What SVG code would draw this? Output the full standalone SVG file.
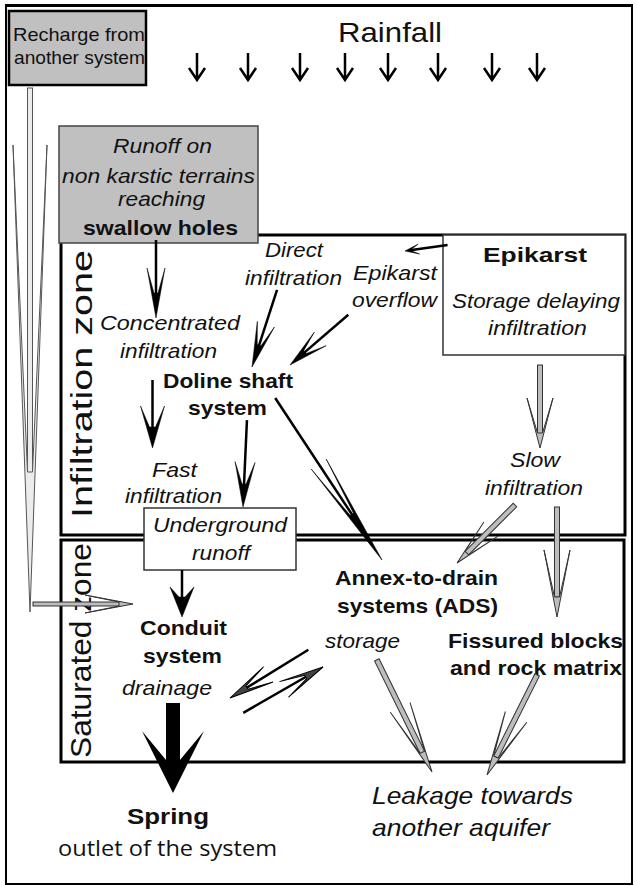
<svg xmlns="http://www.w3.org/2000/svg" width="637" height="886" viewBox="0 0 637 886">
<style>
text{font-family:"Liberation Sans",Arimo,Arial,sans-serif;fill:#111}
.it{font-style:italic;font-size:21px}
.b{font-weight:bold;font-size:21px}
.zone{font-size:29px}
.sh{stroke:#000;fill:none;stroke-width:2.5}
.hd{fill:#000;stroke:#000;stroke-width:0.5}
.g{fill:#bdbdbd;stroke:#333;stroke-width:1}
.dg{fill:#444;stroke:#000;stroke-width:1}
.lg{fill:#ececec;stroke:#555;stroke-width:1}
.box{fill:#fff;stroke:#333;stroke-width:1.5}
.gbox{fill:#c0c0c0}
.zn{fill:none;stroke:#000;stroke-width:3}
</style>
<rect x="6" y="5" width="626" height="879" fill="#fff" stroke="#000" stroke-width="2"/>
<line x1="5" y1="5.5" x2="632" y2="5.5" stroke="#000" stroke-width="3"/>

<g id="infiltration-zone">
<rect class="zn" x="61" y="235" width="564" height="300"/>
<text class="zone" transform="translate(92,518) rotate(-90)" textLength="268" lengthAdjust="spacingAndGlyphs">Infiltration zone</text>
</g>
<g id="saturated-zone">
<rect class="zn" x="61" y="540" width="563" height="222"/>
<text class="zone" transform="translate(91,758) rotate(-90)" textLength="215" lengthAdjust="spacingAndGlyphs">Saturated zone</text>
</g>

<g id="recharge">
<rect class="gbox" x="9" y="11" width="137" height="74" stroke="#000" stroke-width="2.5"/>
<text x="13" y="41" font-size="19" textLength="132" lengthAdjust="spacingAndGlyphs">Recharge from</text>
<text x="14" y="64" font-size="19" textLength="131" lengthAdjust="spacingAndGlyphs">another system</text>
</g>

<g id="rainfall">
<text x="338" y="42" font-size="28" textLength="104" lengthAdjust="spacingAndGlyphs">Rainfall</text>
<path d="M197,53V80M189,68L197,80L205,68 M248,53V80M240,68L248,80L256,68 M300,53V80M292,68L300,80L308,68 M345,53V80M337,68L345,80L353,68 M388,53V80M380,68L388,80L396,68 M438,53V80M430,68L438,80L446,68 M492,53V80M484,68L492,80L500,68 M537,53V80M529,68L537,80L545,68" fill="none" stroke="#000" stroke-width="2.5"/>
</g>

<g id="epikarst">
<rect class="box" x="443" y="235" width="182" height="120"/>
<text class="b" x="483" y="262" font-size="20" textLength="104" lengthAdjust="spacingAndGlyphs">Epikarst</text>
<text class="it" x="452" y="308" textLength="168" lengthAdjust="spacingAndGlyphs">Storage delaying</text>
<text class="it" x="488" y="335" textLength="99" lengthAdjust="spacingAndGlyphs">infiltration</text>
</g>

<g id="runoff">
<rect class="gbox" x="59" y="126" width="199" height="117" stroke="#444" stroke-width="1.5"/>
<text class="it" x="113" y="153" textLength="99" lengthAdjust="spacingAndGlyphs">Runoff on</text>
<text class="it" x="62" y="183" textLength="193" lengthAdjust="spacingAndGlyphs">non karstic terrains</text>
<text class="it" x="118" y="206" textLength="87" lengthAdjust="spacingAndGlyphs">reaching</text>
<text class="b" x="83" y="235" textLength="155" lengthAdjust="spacingAndGlyphs">swallow holes</text>
</g>

<g id="underground-runoff">
<rect class="box" x="144" y="508" width="152" height="62"/>
<text class="it" x="153" y="532" textLength="134" lengthAdjust="spacingAndGlyphs">Underground</text>
<text class="it" x="192" y="560" textLength="58" lengthAdjust="spacingAndGlyphs">runoff</text>
</g>

<g id="direct-infiltration">
<text class="it" x="265" y="257" textLength="58" lengthAdjust="spacingAndGlyphs">Direct</text>
<text class="it" x="245" y="285" textLength="97" lengthAdjust="spacingAndGlyphs">infiltration</text>
</g>
<g id="epikarst-overflow">
<text class="it" x="353" y="280" textLength="84" lengthAdjust="spacingAndGlyphs">Epikarst</text>
<text class="it" x="352" y="307" textLength="85" lengthAdjust="spacingAndGlyphs">overflow</text>
</g>
<g id="concentrated-infiltration">
<text class="it" x="100" y="330" textLength="140" lengthAdjust="spacingAndGlyphs">Concentrated</text>
<text class="it" x="120" y="358" textLength="97" lengthAdjust="spacingAndGlyphs">infiltration</text>
</g>
<g id="doline">
<text class="b" x="163" y="388" font-size="20" textLength="130" lengthAdjust="spacingAndGlyphs">Doline shaft</text>
<text class="b" x="188" y="415" font-size="20" textLength="79" lengthAdjust="spacingAndGlyphs">system</text>
</g>
<g id="fast-infiltration">
<text class="it" x="152" y="477" textLength="45" lengthAdjust="spacingAndGlyphs">Fast</text>
<text class="it" x="125" y="503" textLength="97" lengthAdjust="spacingAndGlyphs">infiltration</text>
</g>
<g id="slow-infiltration">
<text class="it" x="510" y="467" textLength="50" lengthAdjust="spacingAndGlyphs">Slow</text>
<text class="it" x="485" y="495" textLength="98" lengthAdjust="spacingAndGlyphs">infiltration</text>
</g>
<g id="ads">
<text class="b" x="335" y="585" textLength="163" lengthAdjust="spacingAndGlyphs">Annex-to-drain</text>
<text class="b" x="337" y="613" textLength="161" lengthAdjust="spacingAndGlyphs">systems (ADS)</text>
<text class="it" x="325" y="648" textLength="75" lengthAdjust="spacingAndGlyphs">storage</text>
</g>
<g id="fissured">
<text class="b" x="448" y="648" textLength="175" lengthAdjust="spacingAndGlyphs">Fissured blocks</text>
<text class="b" x="450" y="675" textLength="172" lengthAdjust="spacingAndGlyphs">and rock matrix</text>
</g>
<g id="conduit">
<text class="b" x="140" y="635" textLength="87" lengthAdjust="spacingAndGlyphs">Conduit</text>
<text class="b" x="143" y="663" textLength="79" lengthAdjust="spacingAndGlyphs">system</text>
<text class="it" x="122" y="695" textLength="90" lengthAdjust="spacingAndGlyphs">drainage</text>
</g>
<g id="spring">
<text class="b" x="127" y="824" font-size="22" style="font-size:22px" textLength="82" lengthAdjust="spacingAndGlyphs">Spring</text>
<text x="58" y="856" font-size="21" style="font-family:'Open Sans','Noto Sans',sans-serif" textLength="219" lengthAdjust="spacingAndGlyphs">outlet of the system</text>
</g>
<g id="leakage">
<text class="it" x="372" y="804" style="font-size:24px" textLength="201" lengthAdjust="spacingAndGlyphs">Leakage towards</text>
<text class="it" x="372" y="836" style="font-size:24px" textLength="178" lengthAdjust="spacingAndGlyphs">another aquifer</text>
</g>

<g id="connectors">
<g transform="translate(30,612) rotate(90)">
<rect class="lg" x="-524" y="-2.5" width="390" height="5"/>
<path class="lg" d="M0,0 L-467,-17 L-140,-2.5 L-140,2.5 L-467,17 Z"/>
</g>
<g transform="translate(133,604)">
<rect class="g" x="-100" y="-2" width="88" height="4"/>
<path class="g" d="M0,0 L-48,-9 L-14,-2 L-14,2 L-48,9 Z"/>
</g>
<g transform="translate(156,318) rotate(90)">
<line class="sh" x1="-78" y1="0" x2="-15" y2="0"/>
<path class="hd" d="M0,0 L-50,-9 L-25,-2 L-25,2 L-50,9 Z"/>
</g>
<g transform="translate(252,367) rotate(108)">
<line class="sh" x1="-81" y1="0" x2="-12" y2="0"/>
<path class="hd" d="M0,0 L-45,-9 L-23,-2 L-23,2 L-45,9 Z"/>
</g>
<g transform="translate(290,365) rotate(139.2)">
<line class="sh" x1="-77" y1="0" x2="-12" y2="0"/>
<path class="hd" d="M0,0 L-40,-9 L-20,-2 L-20,2 L-40,9 Z"/>
</g>
<g transform="translate(405,251) rotate(172.1)">
<line class="sh" x1="-43" y1="0" x2="-5" y2="0" stroke-width="2"/>
<path class="hd" d="M0,0 L-14,-5 L-7,-1 L-7,1 L-14,5 Z"/>
</g>
<g transform="translate(152.5,448) rotate(90)">
<line class="sh" x1="-68" y1="0" x2="-12" y2="0" stroke-width="4"/>
<path class="hd" d="M0,0 L-42,-12 L-21,-3 L-21,3 L-42,12 Z"/>
</g>
<g transform="translate(243,507) rotate(92.6)">
<line class="sh" x1="-87" y1="0" x2="-12" y2="0"/>
<path class="hd" d="M0,0 L-45,-10 L-23,-2 L-23,2 L-45,10 Z"/>
</g>
<g transform="translate(382,560) rotate(56.6)">
<line class="sh" x1="-194" y1="0" x2="-20" y2="0" stroke-width="3"/>
<path class="hd" d="M0,0 L-115,-9 L-55,-2 L-55,2 L-115,9 Z"/>
</g>
<g transform="translate(182,617) rotate(90)">
<line class="sh" x1="-47" y1="0" x2="-15" y2="0" stroke-width="5"/>
<path class="hd" d="M0,0 L-30,-12 L-20,-3 L-20,3 L-30,12 Z"/>
</g>
<g transform="translate(540,448) rotate(90)">
<rect class="g" x="-83" y="-2.5" width="70" height="5"/>
<path class="g" d="M0,0 L-50,-13 L-15,-2.5 L-15,2.5 L-50,13 Z"/>
</g>
<g transform="translate(457,563) rotate(135)">
<rect class="g" x="-82" y="-2.5" width="69" height="5"/>
<path class="g" d="M0,0 L-48,-10 L-14,-2.5 L-14,2.5 L-48,10 Z"/>
</g>
<g transform="translate(557,617) rotate(90)">
<rect class="g" x="-110" y="-2.5" width="90" height="5"/>
<path class="g" d="M0,0 L-67,-13 L-20,-2.5 L-20,2.5 L-67,13 Z"/>
</g>
<g transform="translate(230,698) rotate(148.4)">
<line class="sh" x1="-92" y1="0" x2="-12" y2="0"/>
<path class="dg" d="M0,0 L-45,-9 L-20,-2 L-20,2 L-45,9 Z"/>
</g>
<g transform="translate(323,667) rotate(-29.9)">
<line class="sh" x1="-92" y1="0" x2="-12" y2="0"/>
<path class="dg" d="M0,0 L-45,-9 L-20,-2 L-20,2 L-45,9 Z"/>
</g>
<g transform="translate(432,772) rotate(63.8)">
<rect class="g" x="-125" y="-2.5" width="104" height="5"/>
<path class="g" d="M0,0 L-72,-11 L-22,-2.5 L-22,2.5 L-72,11 Z"/>
</g>
<g transform="translate(487,775) rotate(116.6)">
<rect class="g" x="-112" y="-2.5" width="92" height="5"/>
<path class="g" d="M0,0 L-65,-12 L-20,-2.5 L-20,2.5 L-65,12 Z"/>
</g>
<path d="M166,703 H180 V760 L204,731 L173,793 L142,731 L166,760 Z" fill="#000"/>
</g>
</svg>
